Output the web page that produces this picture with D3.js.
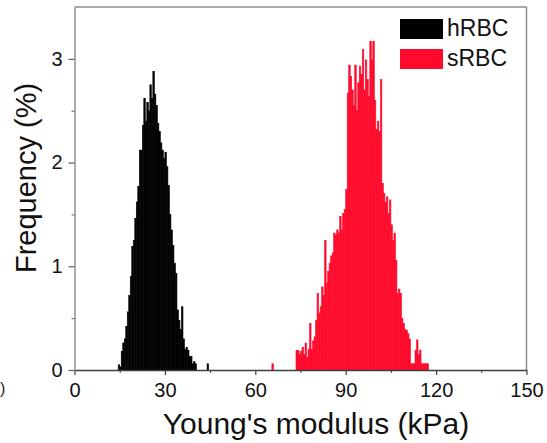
<!DOCTYPE html>
<html>
<head>
<meta charset="utf-8">
<script src="https://cdn.jsdelivr.net/npm/d3@7"></script>
<style>
  html, body { margin: 0; padding: 0; background: #fff; }
  svg { display: block; font-family: "Liberation Sans", Arial, sans-serif; }
</style>
</head>
<body>
<svg id="chart" width="547" height="443"></svg>
<script>
// ---- DATA ----
const seriesNames = ["hRBC", "sRBC"];
const xTickValues = [0, 30, 60, 90, 120, 150];
const yTickValues = [0, 1, 2, 3];
const binWidthKPa = 0.5;

// hRBC: bins of 0.5 kPa starting at 14.0 kPa
const hrbcStart = 14.0;
const hrbcValues = [
  0.00, 0.05, 0.03, 0.18, 0.26, 0.30, 0.42, 0.56, 0.72, 0.90,
  1.19, 1.25, 1.46, 1.62, 1.77, 2.12, 2.12, 2.36, 2.62, 2.40,
  2.58, 2.50, 2.75, 2.62, 2.88, 2.66, 2.55, 2.38, 2.30, 2.19,
  2.12, 2.04, 2.10, 1.96, 1.78, 1.50, 1.35, 1.20, 1.03, 0.93,
  0.58, 0.48, 0.39, 0.61, 0.30, 0.20, 0.22, 0.19, 0.13, 0.13,
  0.06, 0.08, 0.06, 0.00, 0.00, 0.00, 0.00, 0.00, 0.00, 0.00,
  0.06, 0.00
];

// sRBC: bins of 0.5 kPa starting at 65.5 kPa
const srbcStart = 65.5;
const srbcValues = [
  0.06, 0.00, 0.00, 0.00, 0.00, 0.00, 0.00, 0.00, 0.00, 0.00,
  0.00, 0.00, 0.00, 0.00, 0.00, 0.00, 0.19, 0.19, 0.15, 0.18,
  0.22, 0.15, 0.26, 0.12, 0.20, 0.45, 0.20, 0.28, 0.32, 0.48,
  0.74, 0.55, 0.61, 0.80, 0.72, 1.25, 0.84, 0.95, 1.03, 1.10,
  1.13, 1.32, 1.30, 1.35, 1.32, 1.48, 1.35, 1.51, 1.55, 1.74,
  2.67, 2.94, 2.83, 2.70, 2.55, 2.94, 2.50, 2.77, 2.93, 2.85,
  3.09, 2.70, 2.99, 2.80, 2.64, 3.17, 2.99, 3.17, 2.60, 2.32,
  2.40, 2.30, 2.80, 1.80, 1.70, 1.62, 1.67, 1.51, 1.64, 1.40,
  1.25, 1.32, 1.06, 0.74, 0.78, 0.74, 0.50, 0.45, 0.39, 0.38,
  0.35, 0.30, 0.06, 0.06, 0.06, 0.19, 0.29, 0.15, 0.19, 0.06,
  0.06, 0.06, 0.06, 0.06, 0.00
];

const colors = { hRBC: "#000000", sRBC: "#ff0a2c" };

// ---- CHART ----
const svg = d3.select("#chart");
const mLeft = 74.5, mRight = 526.5, mTop = 7, mBottom = 370;

const x = d3.scaleLinear().domain([0, 150]).range([mLeft, mRight]);
const y = d3.scaleLinear().domain([0, 3.5]).range([mBottom, mTop]);

function toBins(start, values) {
  return values.map((v, i) => ({ x0: start + i * binWidthKPa, x1: start + (i + 1) * binWidthKPa, v }));
}

const series = [
  { name: "hRBC", bins: toBins(hrbcStart, hrbcValues) },
  { name: "sRBC", bins: toBins(srbcStart, srbcValues) }
];

const plot = svg.append("g");
series.forEach(s => {
  plot.append("g").selectAll("rect")
    .data(s.bins.filter(d => d.v > 0))
    .join("rect")
    .attr("x", d => x(d.x0))
    .attr("width", d => x(d.x1) - x(d.x0))
    .attr("y", d => y(d.v))
    .attr("height", d => y(0) - y(d.v))
    .attr("fill", colors[s.name])
    .attr("stroke", colors[s.name])
    .attr("stroke-width", 0.6);
});

// frame (top and right)
svg.append("line").attr("x1", mLeft).attr("x2", mRight).attr("y1", mTop).attr("y2", mTop)
  .attr("stroke", "#8a9090").attr("stroke-width", 1.5);
svg.append("line").attr("x1", mRight).attr("x2", mRight).attr("y1", mTop).attr("y2", mBottom)
  .attr("stroke", "#8a9090").attr("stroke-width", 1.5);

// x axis
const xAxis = d3.axisBottom(x).tickValues(xTickValues).tickSize(5).tickPadding(8).tickSizeOuter(0);
const gx = svg.append("g").attr("transform", `translate(0,${mBottom})`).call(xAxis);
gx.select(".domain").attr("stroke", "#3a4040").attr("stroke-width", 1.5);
gx.selectAll(".tick line").attr("stroke", "#3a4040").attr("stroke-width", 1.2);
gx.selectAll(".tick text").attr("font-size", 20).attr("fill", "#111")
  .attr("font-family", "Liberation Sans, Arial, sans-serif");
// x minor ticks
const xMinor = d3.axisBottom(x).tickValues([15, 45, 75, 105, 135]).tickSize(3).tickFormat("");
const gxm = svg.append("g").attr("transform", `translate(0,${mBottom})`).call(xMinor);
gxm.select(".domain").remove();
gxm.selectAll(".tick line").attr("stroke", "#3a4040");

// y axis
const yAxis = d3.axisLeft(y).tickValues(yTickValues).tickFormat(d3.format("d"))
  .tickSize(6).tickPadding(6).tickSizeOuter(0);
const gy = svg.append("g").attr("transform", `translate(${mLeft},0)`).call(yAxis);
gy.select(".domain").attr("stroke", "#8a9090").attr("stroke-width", 1.5);
gy.selectAll(".tick line").attr("stroke", "#5a6060").attr("stroke-width", 1.2);
gy.selectAll(".tick text").attr("font-size", 20).attr("fill", "#111")
  .attr("font-family", "Liberation Sans, Arial, sans-serif");
const yMinor = d3.axisLeft(y).tickValues([0.5, 1.5, 2.5]).tickSize(3).tickFormat("");
const gym = svg.append("g").attr("transform", `translate(${mLeft},0)`).call(yMinor);
gym.select(".domain").remove();
gym.selectAll(".tick line").attr("stroke", "#5a6060");

// axis titles
svg.append("text").attr("x", 316).attr("y", 434).attr("text-anchor", "middle")
  .attr("font-size", 30).attr("fill", "#111").text("Young's modulus (kPa)");
svg.append("text").attr("transform", "translate(36,178) rotate(-90)").attr("text-anchor", "middle")
  .attr("font-size", 29).attr("fill", "#111").text("Frequency (%)");

// stray edge glyph from the cropped source image
svg.append("text").attr("x", 0).attr("y", 394).attr("font-size", 16).attr("fill", "#222").text(")");

// legend
const legend = svg.append("g");
seriesNames.forEach((name, i) => {
  const ly = 19 + i * 30;
  legend.append("rect").attr("x", 400).attr("y", ly).attr("width", 43).attr("height", 20)
    .attr("fill", colors[name]);
  legend.append("text").attr("x", 447).attr("y", ly + 17).attr("font-size", 23)
    .attr("fill", "#111").text(name);
});
</script>
</body>
</html>
